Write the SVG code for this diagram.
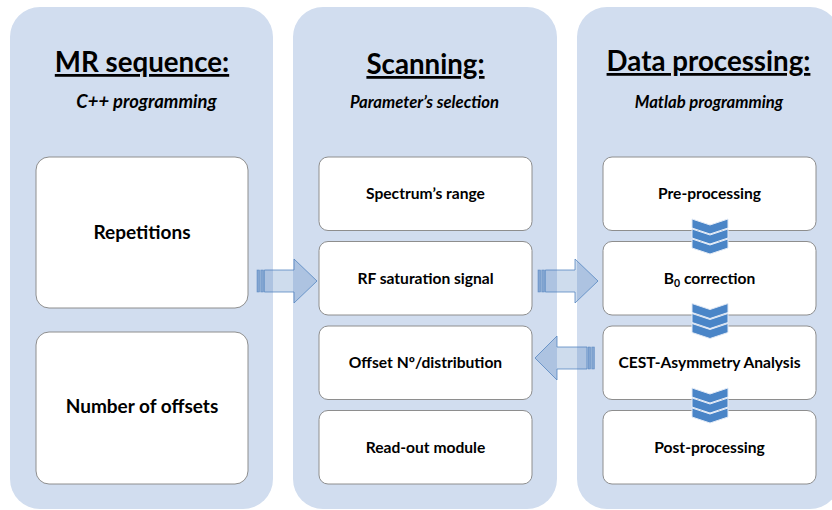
<svg xmlns="http://www.w3.org/2000/svg" width="832" height="510" viewBox="0 0 832 510">
<style>
.panel{fill:#d1ddef}
.box{fill:#ffffff;stroke:#8e8e8e;stroke-width:1}
.title{font-family:Lato,"Liberation Sans",sans-serif;font-weight:bold;font-size:27.7px;fill:#000;text-anchor:middle;text-decoration:underline}
.sub{font-family:Lato,"Liberation Sans",sans-serif;font-weight:bold;font-style:italic;fill:#000;text-anchor:middle}
.lbl{font-family:Lato,"Liberation Sans",sans-serif;font-weight:bold;fill:#000;text-anchor:middle}
.big{font-size:19px}
.s1{font-size:18.4px}
.s2{font-size:16.7px}
.sm{font-size:15.6px}
.arr{fill:#4f81bd;fill-opacity:0.28;stroke:#4f81bd;stroke-opacity:0.75;stroke-width:1}
.stripe{fill:#4f81bd;fill-opacity:0.6;stroke:#4f81bd;stroke-opacity:0.8;stroke-width:0.6}
.chev{fill:#4a85c7;stroke:#e2eaf6;stroke-width:1}
</style>
<defs>
<path id="chv" d="M0,0 L18,6 L36,0 L36,9 L18,15 L0,9 Z"/>
<g id="chev3">
<use href="#chv" y="0" class="chev"/>
<use href="#chv" y="10" class="chev"/>
<use href="#chv" y="20" class="chev"/>
</g>
</defs>

<g id="panel-mr">
<rect class="panel" x="10" y="7" width="263" height="502" rx="30"/>
<text class="title" x="142" y="72">MR sequence:</text>
<text class="sub s1" x="146.5" y="108">C++ programming</text>
</g>
<g id="panel-scan">
<rect class="panel" x="293" y="7" width="264" height="502" rx="30"/>
<text class="title" x="425.5" y="74">Scanning:</text>
<text class="sub s2" x="424.5" y="108">Parameter’s selection</text>
</g>
<g id="panel-data">
<rect class="panel" x="577" y="7" width="263" height="502" rx="30"/>
<text class="title" x="708.5" y="71">Data processing:</text>
<text class="sub s2" x="709" y="108">Matlab programming</text>
</g>

<g id="node-repetitions">
<rect class="box" x="36" y="157" width="212" height="151" rx="13"/>
<text class="lbl big" x="142" y="239">Repetitions</text>
</g>
<g id="node-offsets">
<rect class="box" x="36" y="332" width="212" height="152" rx="13"/>
<text class="lbl big" x="142" y="413">Number of offsets</text>
</g>

<g id="node-spectrum">
<rect class="box" x="319" y="157" width="213" height="73.5" rx="9"/>
<text class="lbl sm" x="425.5" y="199">Spectrum’s range</text>
</g>
<g id="node-rf">
<rect class="box" x="319" y="241.5" width="213" height="73.5" rx="9"/>
<text class="lbl sm" x="425.5" y="283.5">RF saturation signal</text>
</g>
<g id="node-offsetdist">
<rect class="box" x="319" y="326" width="213" height="73.5" rx="9"/>
<text class="lbl sm" x="425.5" y="368">Offset Nº/distribution</text>
</g>
<g id="node-readout">
<rect class="box" x="319" y="410.5" width="213" height="73.5" rx="9"/>
<text class="lbl sm" x="425.5" y="452.5">Read-out module</text>
</g>

<g id="node-pre">
<rect class="box" x="603" y="157" width="213" height="73.5" rx="9"/>
<text class="lbl sm" x="709.5" y="199">Pre-processing</text>
</g>
<g id="node-b0">
<rect class="box" x="603" y="241.5" width="213" height="73.5" rx="9"/>
<text class="lbl sm" x="709.5" y="283.5">B<tspan font-size="10.5px" dy="3">0</tspan><tspan dy="-3"> correction</tspan></text>
</g>
<g id="node-cest">
<rect class="box" x="603" y="326" width="213" height="73.5" rx="9"/>
<text class="lbl sm" x="709.5" y="368">CEST-Asymmetry Analysis</text>
</g>
<g id="node-post">
<rect class="box" x="603" y="410.5" width="213" height="73.5" rx="9"/>
<text class="lbl sm" x="709.5" y="452.5">Post-processing</text>
</g>

<g id="connectors">
<g id="arrow-mr-scan">
<rect class="stripe" x="257" y="270" width="2.5" height="22"/>
<rect class="stripe" x="260.8" y="270" width="2.5" height="22"/>
<path class="arr" d="M264.3,270 H294 V259 L317,281 L294,303 V292 H264.3 Z"/>
</g>
<g id="arrow-scan-data">
<rect class="stripe" x="538" y="270" width="2.5" height="22"/>
<rect class="stripe" x="541.8" y="270" width="2.5" height="22"/>
<path class="arr" d="M545.3,270 H575 V259 L598,281 L575,303 V292 H545.3 Z"/>
</g>
<g id="arrow-data-scan">
<rect class="stripe" x="591.8" y="347" width="2.5" height="22"/>
<rect class="stripe" x="588" y="347" width="2.5" height="22"/>
<path class="arr" d="M587,347 H557 V336 L535,358 L557,380 V369 H587 Z"/>
</g>
<use href="#chev3" x="692" y="219"/>
<use href="#chev3" x="692" y="303.5"/>
<use href="#chev3" x="692" y="388"/>
</g>
</svg>
